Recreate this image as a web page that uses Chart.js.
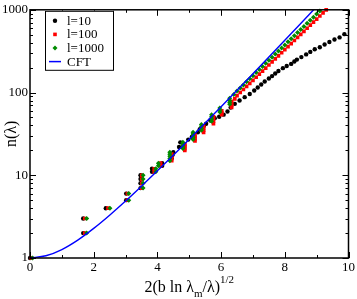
<!DOCTYPE html>
<html>
<head>
<meta charset="utf-8">
<script src="https://cdn.jsdelivr.net/npm/chart.js@4.4.1/dist/chart.umd.min.js"></script>
<style>
  body { margin: 0; background: #fff; }
</style>
</head>
<body>
<canvas id="canvasEspectro" width="357" height="299"></canvas>
<script>
// ticks e nomes
const xTicks = [0, 2, 4, 6, 8, 10];
const yTicks = [1, 10, 100, 1000];
const nomes = ['l=10', 'l=100', 'l=1000', 'CFT'];

// pontos: [x, n]
const l10 = [
  [0, 1], [1.67, 2], [1.67, 3], [2.38, 4], [3.02, 5], [3.02, 6], [3.47, 7], [3.47, 8], [3.47, 9], [3.47, 10],
  [3.83, 11], [3.83, 12], [4.15, 13], [4.15, 14], [4.45, 16], [4.47, 17.5], [4.5, 19], [4.68, 22], [4.72, 25],
  [4.97, 27], [5.08, 29], [5.13, 31], [5.27, 33], [5.33, 36], [5.45, 39], [5.53, 42], [5.66, 46], [5.8, 49],
  [5.94, 51], [6.08, 54], [6.2, 59], [6.3, 66], [6.43, 73], [6.58, 80], [6.74, 88], [6.9, 96], [7.04, 106],
  [7.15, 115], [7.26, 125], [7.37, 136], [7.5, 148], [7.6, 158], [7.7, 170], [7.8, 182], [7.94, 197],
  [8.06, 209], [8.2, 222], [8.3, 237], [8.38, 250], [8.52, 268], [8.67, 289], [8.8, 310], [8.94, 333],
  [9.1, 353], [9.25, 380], [9.4, 408], [9.56, 438], [9.72, 464], [9.87, 508]
];

const l100 = [
  [0.04, 1], [1.72, 2], [1.72, 3], [2.45, 4], [3.06, 5], [3.06, 6], [3.51, 7], [3.51, 8], [3.51, 9], [3.51, 10],
  [3.9, 11], [3.9, 12], [4.1, 13], [4.1, 14], [4.45, 15], [4.45, 16], [4.45, 17], [4.45, 18],
  [4.86, 20], [4.86, 21], [4.86, 22], [4.86, 23], [4.86, 24], [5.18, 26], [5.18, 27.5], [5.18, 29], [5.18, 30.5],
  [5.45, 33], [5.45, 35], [5.45, 37], [5.45, 39], [5.76, 42], [5.76, 45], [5.76, 48], [5.76, 51],
  [6.02, 54], [6.02, 57], [6.02, 60], [6.33, 66], [6.33, 70], [6.33, 74], [6.33, 78], [6.43, 84],
  [6.5, 91.8], [6.6, 100], [6.7, 108.9], [6.8, 118.6], [6.9, 129.1], [7.0, 140.6], [7.1, 153.1], [7.2, 166.7],
  [7.3, 181.6], [7.4, 197.7], [7.5, 215.3], [7.6, 234.4], [7.7, 255.3], [7.8, 278], [7.9, 302.7], [8.0, 329.6],
  [8.1, 358.9], [8.2, 390.8], [8.3, 425.6], [8.4, 463.4], [8.5, 504.7], [8.6, 549.5], [8.7, 598.4],
  [8.8, 651.6], [8.9, 709.6], [9.0, 772.7], [9.1, 841.4], [9.2, 916.2], [9.3, 997.7]
];

const l1000 = [
  [0.08, 1], [1.78, 2], [1.78, 3], [2.51, 4], [3.1, 5], [3.1, 6], [3.55, 7], [3.55, 8], [3.55, 9], [3.55, 10],
  [3.95, 11], [3.95, 12], [4.03, 13], [4.03, 14], [4.39, 15], [4.39, 16], [4.39, 17], [4.39, 18], [4.39, 19],
  [4.8, 21], [4.8, 22], [4.8, 23], [4.8, 24], [4.8, 25], [5.12, 27], [5.12, 28.5], [5.12, 30], [5.12, 31.5],
  [5.12, 33], [5.38, 35], [5.38, 37], [5.38, 39], [5.38, 41], [5.7, 45], [5.7, 48], [5.7, 51], [5.7, 54],
  [5.96, 58], [5.96, 61.5], [5.96, 65], [6.27, 72], [6.27, 76], [6.27, 80], [6.27, 85], [6.4, 95],
  [6.5, 104.3], [6.6, 113.6], [6.7, 123.7], [6.8, 134.8], [6.9, 146.8], [7.0, 160], [7.1, 174.2], [7.2, 189.8],
  [7.3, 206.8], [7.4, 225.3], [7.5, 245.5], [7.6, 267.4], [7.7, 291.3], [7.8, 317.4], [7.9, 345.7], [8.0, 376.7],
  [8.1, 410.4], [8.2, 447], [8.3, 487], [8.4, 530.6], [8.5, 578.1], [8.6, 629.8], [8.7, 686.1], [8.8, 747.5],
  [8.9, 814.3], [9.0, 887.2], [9.1, 966.5]
];

const cft = [
  [0, 1], [0.5, 1.0635], [1, 1.2661], [1.5, 1.6467], [2, 2.2796], [2.5, 3.2898], [3, 4.8808], [3.5, 7.3782],
  [4, 11.302], [4.5, 17.481], [5, 27.24], [5.5, 42.695], [6, 67.234], [6.5, 106.29], [7, 168.59],
  [7.5, 268.16], [8, 427.56], [8.5, 683.16], [9, 1093.6], [9.5, 1754]
];

function pares(lista) {
  return lista.map(p => ({ x: p[0], y: p[1] }));
}

const fonte = '"Liberation Serif", "Times New Roman", serif';

// moldura com ticks para dentro, nos quatro lados
const molduraEixos = {
  id: 'molduraEixos',
  afterDraw(chart) {
    const ctx = chart.ctx, a = chart.chartArea;
    const sx = chart.scales.x, sy = chart.scales.y;
    ctx.save();
    ctx.strokeStyle = '#000';
    ctx.lineWidth = 1;
    ctx.beginPath();
    for (let v = 0; v <= 10; v++) {
      const px = Math.round(sx.getPixelForValue(v)) + 0.5;
      const len = v % 2 === 0 ? 6 : 3;
      ctx.moveTo(px, a.bottom); ctx.lineTo(px, a.bottom - len);
      ctx.moveTo(px, a.top); ctx.lineTo(px, a.top + len);
    }
    for (let d = 1; d <= 1000; d *= 10) {
      for (let m = 1; m <= 9; m++) {
        const v = d * m;
        if (v > 1000) break;
        const py = Math.round(sy.getPixelForValue(v)) + 0.5;
        const len = m === 1 ? 6 : 3;
        ctx.moveTo(a.left, py); ctx.lineTo(a.left + len, py);
        ctx.moveTo(a.right, py); ctx.lineTo(a.right - len, py);
      }
    }
    ctx.stroke();
    ctx.lineWidth = 1.5;
    ctx.strokeRect(a.left, a.top, a.right - a.left, a.bottom - a.top);

    // titulo do eixo x com subscrito e sobrescrito
    ctx.fillStyle = '#000';
    ctx.textBaseline = 'alphabetic';
    const p1 = '2(b ln \u03bb', p2 = 'm', p3 = '/\u03bb)', p4 = '1/2';
    ctx.font = '16px ' + fonte;
    const w1 = ctx.measureText(p1).width, w3 = ctx.measureText(p3).width;
    ctx.font = '11px ' + fonte;
    const w2 = ctx.measureText(p2).width, w4 = ctx.measureText(p4).width;
    let x = (a.left + a.right) / 2 - (w1 + w2 + w3 + w4) / 2;
    const yb = 292;
    ctx.font = '16px ' + fonte;
    ctx.fillText(p1, x, yb); x += w1;
    ctx.font = '11px ' + fonte;
    ctx.fillText(p2, x, yb + 5); x += w2;
    ctx.font = '16px ' + fonte;
    ctx.fillText(p3, x, yb); x += w3;
    ctx.font = '11px ' + fonte;
    ctx.fillText(p4, x, yb - 9);

    // titulo do eixo y
    ctx.save();
    ctx.translate(12, (a.top + a.bottom) / 2);
    ctx.rotate(-Math.PI / 2);
    ctx.font = '16px ' + fonte;
    ctx.textAlign = 'center';
    ctx.textBaseline = 'middle';
    ctx.fillText('n(\u03bb)', 0, 0);
    ctx.restore();
    ctx.restore();
  }
};

// legenda dentro do grafico, com caixa
const caixaLegenda = {
  id: 'caixaLegenda',
  afterDraw(chart) {
    const ctx = chart.ctx, a = chart.chartArea;
    const x0 = a.left + 15, y0 = a.top + 1, w = 68, h = 59;
    ctx.save();
    ctx.fillStyle = '#fff';
    ctx.fillRect(x0, y0, w, h);
    ctx.strokeStyle = '#000';
    ctx.lineWidth = 1;
    ctx.strokeRect(x0 + 0.5, y0 + 0.5, w, h);
    ctx.font = '13px ' + fonte;
    ctx.textBaseline = 'middle';
    chart.data.datasets.forEach((ds, i) => {
      const cy = y0 + 10 + i * 13.6, mx = x0 + 10;
      ctx.fillStyle = ds.backgroundColor;
      ctx.strokeStyle = ds.borderColor;
      if (ds.pointStyle === 'circle') {
        ctx.beginPath(); ctx.arc(mx, cy, 2.2, 0, Math.PI * 2); ctx.fill();
      } else if (ds.pointStyle === 'rect') {
        ctx.fillRect(mx - 1.8, cy - 1.8, 3.6, 3.6);
      } else if (ds.pointStyle === 'rectRot') {
        ctx.beginPath();
        ctx.moveTo(mx, cy - 2.5); ctx.lineTo(mx + 2.5, cy); ctx.lineTo(mx, cy + 2.5); ctx.lineTo(mx - 2.5, cy);
        ctx.closePath(); ctx.fill();
      } else {
        ctx.lineWidth = 1.5;
        ctx.beginPath(); ctx.moveTo(mx - 6, cy); ctx.lineTo(mx + 6, cy); ctx.stroke();
      }
      ctx.fillStyle = '#000';
      ctx.fillText(ds.label, x0 + 22, cy + 0.5);
    });
    ctx.restore();
  }
};

let canvasEspectro = document.getElementById('canvasEspectro').getContext('2d');
let grafico = new Chart(canvasEspectro, {
  type: 'scatter',
  data: {
    datasets: [
      {
        label: nomes[0],
        data: pares(l10),
        pointStyle: 'circle',
        pointRadius: 2.2,
        backgroundColor: '#000000',
        borderColor: '#000000',
        borderWidth: 0,
        clip: 4,
        order: 3
      },
      {
        label: nomes[1],
        data: pares(l100),
        pointStyle: 'rect',
        pointRadius: 2.6,
        backgroundColor: '#ff0000',
        borderColor: '#ff0000',
        borderWidth: 0,
        clip: 4,
        order: 2
      },
      {
        label: nomes[2],
        data: pares(l1000),
        pointStyle: 'rectRot',
        pointRadius: 2.5,
        backgroundColor: '#008b00',
        borderColor: '#008b00',
        borderWidth: 0,
        clip: 4,
        order: 1
      },
      {
        type: 'line',
        label: nomes[3],
        data: pares(cft),
        showLine: true,
        pointRadius: 0,
        borderColor: '#0000ff',
        backgroundColor: '#0000ff',
        borderWidth: 1.4,
        cubicInterpolationMode: 'monotone',
        fill: false,
        order: 0
      }
    ]
  },
  options: {
    responsive: false,
    animation: false,
    devicePixelRatio: 1,
    layout: { padding: { top: 4, right: 8, left: 0, bottom: 0 } },
    plugins: {
      legend: { display: false },
      tooltip: { enabled: false }
    },
    scales: {
      x: {
        type: 'linear',
        min: 0,
        max: 10,
        afterBuildTicks: s => { s.ticks = xTicks.map(v => ({ value: v })); },
        afterFit: s => { s.height = 41; },
        ticks: { color: '#000', font: { family: fonte, size: 13 }, padding: 2, maxRotation: 0 },
        grid: { display: false, drawTicks: false },
        border: { display: false }
      },
      y: {
        type: 'logarithmic',
        min: 1,
        max: 1000,
        afterBuildTicks: s => { s.ticks = yTicks.map(v => ({ value: v })); },
        afterFit: s => { s.width = 30; },
        ticks: {
          color: '#000',
          font: { family: fonte, size: 13 },
          padding: 2,
          autoSkip: false,
          callback: v => String(v)
        },
        grid: { display: false, drawTicks: false },
        border: { display: false }
      }
    }
  },
  plugins: [molduraEixos, caixaLegenda]
});
</script>
</body>
</html>
